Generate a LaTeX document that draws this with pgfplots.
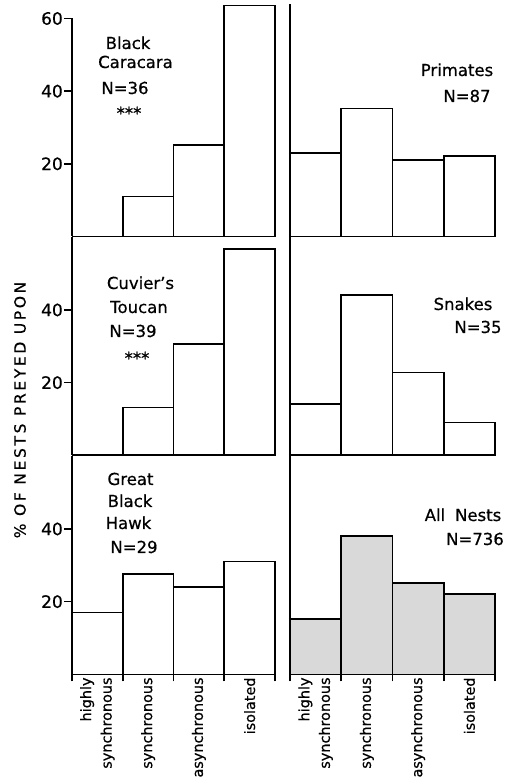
\documentclass[border=0pt]{standalone}
\usepackage{fontspec}
\setmainfont[FakeBold=0.6]{DejaVu Sans}
\newfontfamily\widefont[LetterSpace=17, FakeBold=0.6]{DejaVu Sans}
\usepackage{pgfplots}
\pgfplotsset{compat=1.18}

\newcommand\pfont{\fontsize{16.5}{20}\selectfont}

\pgfplotsset{
  panel/.style={
    scale only axis, height=218pt, anchor=south west,
    xmin=-0.5, xmax=3.5, ymin=0, ymax=60,
    axis lines*=left, axis line style={-, line width=1.6pt},
    ybar, bar width=1, clip=false,
    xtick=\empty, ytick=\empty,
    ytick align=outside, xtick align=outside,
    major tick length=8pt, minor tick length=7pt,
    tick style={line width=1.6pt, black},
    /pgf/number format/assume math mode=true,
    yticklabel style={font=\fontsize{17}{20}\selectfont, inner sep=1pt},
  },
  leftcol/.style={panel, width=203pt},
  rightcol/.style={panel, width=205pt},
  bottomrow/.style={
    xtick={0,1,2,3},
    xticklabels={{highly\\synchronous},synchronous,asynchronous,isolated},
    major x tick style={draw=none},
    minor xtick={-0.5,0.5,1.5,2.5,3.5},
    xticklabel shift=-5pt,
    xticklabel style={font=\fontsize{14.4}{20.5}\selectfont, rotate=90, anchor=east, align=right, inner sep=0pt},
  },
  bars/.style={draw=black, line width=1.6pt, fill=white},
}

\begin{document}
\begin{tikzpicture}
\path[use as bounding box] (0,0) rectangle (517pt,781pt);

% top row
\begin{axis}[leftcol, at={(72pt,544.5pt)}, ytick={20,40,60}]
  \addplot[bars] coordinates {(0,0) (1,11.0) (2,25.2) (3,63.6)};
\end{axis}
\begin{axis}[rightcol, at={(290pt,544.5pt)}]
  \addplot[bars] coordinates {(0,22.9) (1,35.2) (2,21.0) (3,22.1)};
  \draw[line width=1.6pt] (rel axis cs:0,1) -- ++(0pt,14pt);
\end{axis}

% middle row
\begin{axis}[leftcol, at={(72pt,325.7pt)}, ytick={20,40}]
  \addplot[bars] coordinates {(0,0) (1,13.1) (2,30.6) (3,56.8)};
\end{axis}
\begin{axis}[rightcol, at={(290pt,325.7pt)}]
  \addplot[bars] coordinates {(0,14.1) (1,44.1) (2,22.8) (3,9.0)};
\end{axis}

% bottom row
\begin{axis}[leftcol, bottomrow, at={(72pt,106.7pt)}, ytick={20,40}]
  \addplot[bars] coordinates {(0,17.0) (1,27.6) (2,24.1) (3,31.0)};
\end{axis}
\begin{axis}[rightcol, bottomrow, at={(290pt,106.7pt)}]
  \addplot[bars, fill=gray!30] coordinates {(0,15.2) (1,38.1) (2,25.1) (3,22.1)};
\end{axis}

% panel captions
\begin{scope}[every node/.style={font=\pfont, anchor=base, inner sep=0pt}]
  \node at (128pt,732pt) {Black};
  \node at (135.5pt,713pt) {Caracara};
  \node at (125pt,687pt) {N=36};
  \node at (129pt,662pt) {***};
  \node at (457pt,705pt) {Primates};
  \node at (467pt,679pt) {N=87};
  \node at (140.5pt,492pt) {Cuvier's};
  \node at (139pt,468pt) {Toucan};
  \node at (133pt,444pt) {N=39};
  \node at (137pt,417pt) {***};
  \node at (463pt,471pt) {Snakes};
  \node at (478pt,448pt) {N=35};
  \node at (130.5pt,296pt) {Great};
  \node at (130pt,274pt) {Black};
  \node at (128.5pt,252pt) {Hawk};
  \node at (134pt,228pt) {N=29};
  \node at (463pt,260pt) {All\hspace{0.6em}Nests};
  \node at (475pt,236pt) {N=736};
\end{scope}

\node[rotate=90, font=\widefont\fontsize{15.5}{18}\selectfont] at (20pt,371pt) {\% OF NESTS PREYED UPON};
\end{tikzpicture}
\end{document}
